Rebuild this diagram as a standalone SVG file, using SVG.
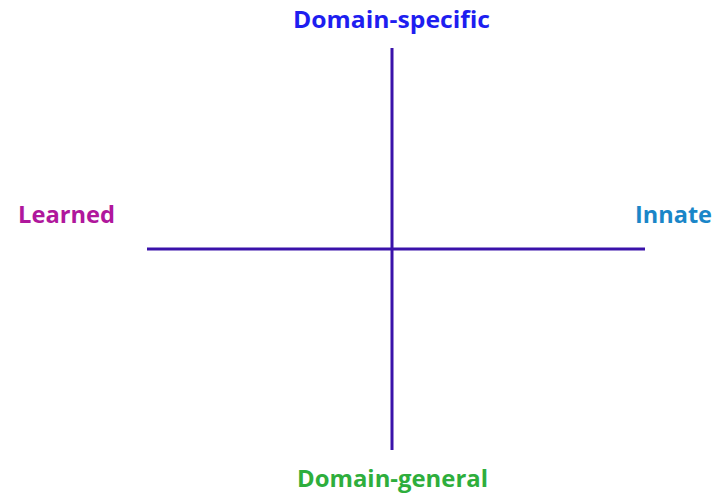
<svg xmlns="http://www.w3.org/2000/svg" width="722" height="497" viewBox="0 0 722 497">
<style>
.t{font-family:"Open Sans","Noto Sans","Liberation Sans",sans-serif;font-weight:bold;font-size:22.5px}
.ax{stroke:#3A12AA;stroke-width:3;fill:none}
</style>
<rect width="722" height="497" fill="#ffffff"/>
<g id="connectors">
<line class="ax" x1="392" y1="48" x2="392" y2="450"/>
<line class="ax" x1="147" y1="249" x2="645" y2="249"/>
</g>
<g id="domain-specific"><text class="t" x="293" y="28" fill="#1E1EF0" textLength="197" lengthAdjust="spacingAndGlyphs">Domain-specific</text></g>
<g id="learned"><text class="t" x="18" y="223" fill="#B0179C" textLength="97" lengthAdjust="spacingAndGlyphs">Learned</text></g>
<g id="innate"><text class="t" x="635" y="223" fill="#1A86C8" textLength="77" lengthAdjust="spacingAndGlyphs">Innate</text></g>
<g id="domain-general"><text class="t" x="297" y="487" fill="#2EAE3C" textLength="191" lengthAdjust="spacingAndGlyphs">Domain-general</text></g>
</svg>
